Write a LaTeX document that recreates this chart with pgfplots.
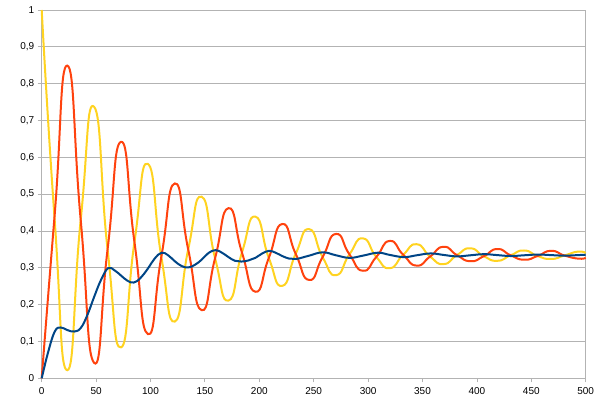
\documentclass[border=0pt]{standalone}
\usepackage{fontspec}
\setmainfont{Liberation Sans}
\usepackage{pgfplots}
\pgfplotsset{compat=1.18}
\definecolor{cblue}{HTML}{004586}
\definecolor{cred}{HTML}{FF420E}
\definecolor{cyel}{HTML}{FFD320}
\definecolor{cgrid}{HTML}{B3B3B3}
\begin{document}
\begin{tikzpicture}
\useasboundingbox (-41.7bp,-19.7bp) rectangle (555.3bp,378.3bp);
\begin{axis}[
  at={(0,0)}, anchor=south west,
  scale only axis, width=544bp, height=368.3bp,
  xmin=0, xmax=500, ymin=0, ymax=1,
  clip=false,
  xtick={0,50,100,150,200,250,300,350,400,450,500},
  xticklabels={0,50,100,150,200,250,300,350,400,450,500},
  ytick={0,0.1,0.2,0.3,0.4,0.5,0.6,0.7,0.8,0.9,1},
  yticklabels={0,{0,1},{0,2},{0,3},{0,4},{0,5},{0,6},{0,7},{0,8},{0,9},1},
  ymajorgrids,
  grid style={cgrid, line width=0.8bp},
  axis line style={cgrid, line width=0.8bp},
  tick style={cgrid, line width=0.8bp},
  tick align=outside, major tick length=4bp,
  xtick pos=bottom, ytick pos=left,
  tick label style={font=\fontsize{10bp}{12bp}\selectfont, text=black},
  xticklabel style={yshift=-1.5bp},
  every axis plot/.append style={line width=2bp, smooth},
]
\addplot[cyel, tension=1] coordinates {
(0,1.0) (11.75,0.4375) (23.5,0.022) (35.85,0.43) (48.2,0.737) (60.55,0.35)
(72.9,0.084) (85.25,0.37) (97.6,0.582) (109.95,0.33) (122.3,0.154) (134.65,0.35)
(147,0.493) (159.35,0.326) (171.7,0.211) (184.05,0.3415) (196.4,0.439) (208.75,0.327)
(221.1,0.251) (233.45,0.338) (245.8,0.405) (258.15,0.329) (270.5,0.280) (282.85,0.3365)
(295.2,0.380) (307.55,0.3295) (319.9,0.299) (332.25,0.3355) (344.6,0.364) (356.95,0.3305)
(369.3,0.310) (381.65,0.3345) (394,0.353) (406.35,0.3315) (418.7,0.319) (431.05,0.334)
(443.4,0.347) (455.75,0.332) (468.1,0.324) (480.45,0.3335) (492.8,0.344) (500,0.340)
};
\addplot[cred, tension=1] coordinates {
(0,0) (11.75,0.4375) (23.5,0.849) (35.85,0.43) (48.2,0.042) (60.55,0.35)
(72.9,0.642) (85.25,0.37) (97.6,0.120) (109.95,0.33) (122.3,0.529) (134.65,0.35)
(147,0.185) (159.35,0.326) (171.7,0.462) (184.05,0.3415) (196.4,0.235) (208.75,0.327)
(221.1,0.419) (233.45,0.338) (245.8,0.267) (258.15,0.329) (270.5,0.392) (282.85,0.3365)
(295.2,0.292) (307.55,0.3295) (319.9,0.373) (332.25,0.3355) (344.6,0.306) (356.95,0.3305)
(369.3,0.357) (381.65,0.3345) (394,0.318) (406.35,0.3315) (418.7,0.351) (431.05,0.334)
(443.4,0.322) (455.75,0.332) (468.1,0.346) (480.45,0.3335) (492.8,0.325) (500,0.327)
};
\addplot[cblue, tension=0.7] coordinates {
(0,0) (6,0.072) (12,0.127) (17.4,0.138) (23.5,0.131) (30,0.127) (36,0.137)
(42,0.172) (48.2,0.221) (54.5,0.267) (61,0.299) (67,0.293) (72.9,0.279) (78.8,0.265)
(84.7,0.260) (91,0.273) (97.6,0.298) (103.8,0.325) (110.2,0.341) (116.2,0.334)
(122.3,0.318) (128.5,0.305) (134.7,0.301) (140.8,0.308) (147,0.322) (153.2,0.340)
(159.7,0.348) (165.7,0.341) (171.7,0.329) (177.6,0.319) (183.5,0.317) (190,0.320)
(196.4,0.327) (202.7,0.339) (209,0.346) (215,0.341) (221.1,0.332) (227.5,0.325) (234,0.324)
(245.8,0.333) (258.4,0.342) (270.5,0.334) (283,0.327) (295.2,0.333) (309,0.341) (319.9,0.335)
(333,0.329) (344.6,0.334) (357.5,0.339) (369.3,0.335) (381.5,0.331) (394,0.334)
(406.5,0.337) (418.7,0.3345) (431,0.332) (443.4,0.334) (456,0.336) (468.1,0.3345)
(480.5,0.333) (492.8,0.3345) (500,0.3355)
};
\end{axis}
\end{tikzpicture}
\end{document}
